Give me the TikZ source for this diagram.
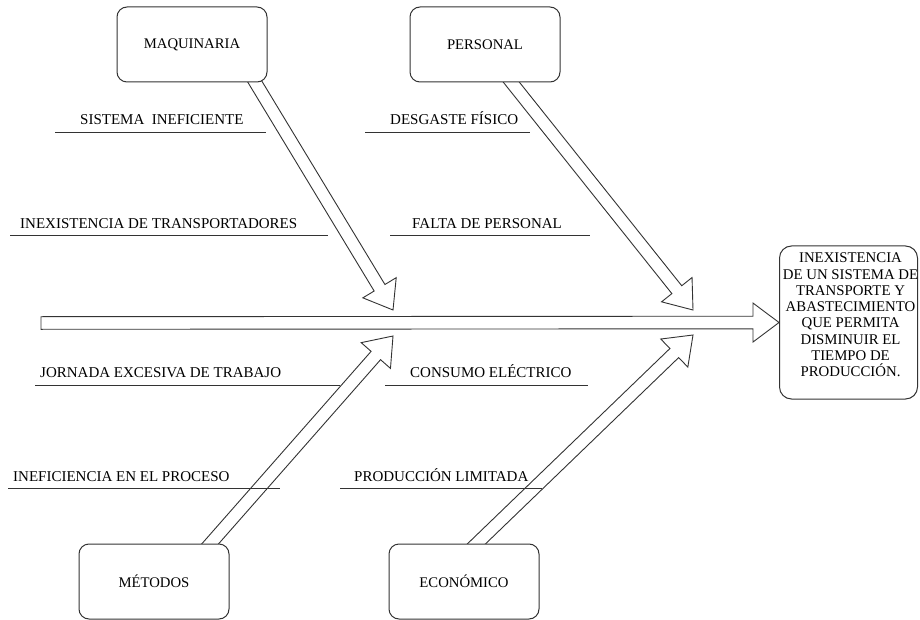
\documentclass[tikz,border=0pt]{standalone}
\usepackage{fontspec}
\setmainfont{Liberation Serif}
\usetikzlibrary{calc}
\pgfdeclarelayer{bg}
\pgfsetlayers{bg,main}
\definecolor{ln}{HTML}{333333}
\tikzset{
  causebox/.style={draw=ln, line width=1pt, rounded corners=10pt, fill=white,
    minimum width=150pt, minimum height=75pt, inner sep=0pt,
    font=\fontsize{14.7}{16}\selectfont},
  effbox/.style={draw=ln, line width=1pt, rounded corners=12pt, fill=white,
    minimum width=138pt, minimum height=153pt, inner sep=0pt},
  efftext/.style={align=center, inner sep=0pt, font=\fontsize{14.8}{16.3}\selectfont},
  barrow/.style={draw=ln, line width=0.9pt, fill=white, line join=miter},
  lbl/.style={font=\fontsize{15}{16}\selectfont, inner sep=0pt, anchor=base west},
  uline/.style={draw=ln, line width=1pt}
}
\newcommand\blockarrow[3]{% #1 prefix, #2 start, #3 tip
  \coordinate (#1h) at ($(#3)!26pt!(#2)$);
  \draw[barrow] ($(#2)!6.3pt!90:(#3)$) -- ($(#1h)!6.3pt!90:(#3)$)
    -- ($(#1h)!19.5pt!90:(#3)$) -- (#3) -- ($(#1h)!19.5pt!-90:(#3)$)
    -- ($(#1h)!6.3pt!-90:(#3)$) -- ($(#2)!6.3pt!-90:(#3)$) -- cycle;
}
\begin{document}
\begin{tikzpicture}[x=1pt,y=-1pt]
\useasboundingbox (0,0) rectangle (920,620);

% boxes
\node[causebox] (maq) at (192,44.5) {MAQUINARIA};
\node[causebox] (per) at (485,44.5) {PERSONAL};
\node[causebox] (met) at (154,581.5) {MÉTODOS};
\node[causebox] (eco) at (464,581.5) {ECONÓMICO};
\node[effbox] (efecto) at (848.5,322.5) {};
\node[efftext] (efectotxt) at (850.5,315) {INEXISTENCIA\\DE UN SISTEMA DE\\TRANSPORTE Y\\ABASTECIMIENTO\\QUE PERMITA\\DISMINUIR EL\\TIEMPO DE\\PRODUCCIÓN.};

% arrow coordinates
\coordinate (s0) at (41,323);
\coordinate (a1) at (250.8,75);
\coordinate (t1) at (393,310);
\coordinate (a2) at (505.6,75);
\coordinate (t2) at (693,310);
\coordinate (a3) at (203,552);
\coordinate (t3) at (393,336);
\coordinate (a4) at (468,552);
\coordinate (t4) at (693,335);

\begin{pgfonlayer}{bg}
  \blockarrow{sp}{s0}{efecto.west}
  \blockarrow{ma}{a1}{t1}
  \blockarrow{pa}{a2}{t2}
  \blockarrow{mt}{a3}{t3}
  \blockarrow{ec}{a4}{t4}
\end{pgfonlayer}

% labels
\node[lbl] (l1) at (80,125) {SISTEMA\ \ INEFICIENTE};
\draw[uline] (55,133) -- (266,133);
\node[lbl] (l2) at (20,229) {INEXISTENCIA DE TRANSPORTADORES};
\draw[uline] (10,236) -- (328,236);
\node[lbl] (l3) at (390,125) {DESGASTE FÍSICO};
\draw[uline] (365,133) -- (530,133);
\node[lbl] (l4) at (412,229) {FALTA DE PERSONAL};
\draw[uline] (390,236) -- (590,236);
\node[lbl] (l5) at (40,377) {JORNADA EXCESIVA DE TRABAJO};
\draw[uline] (35,385) -- (340,385);
\node[lbl] (l6) at (410,377) {CONSUMO ELÉCTRICO};
\draw[uline] (385,385) -- (588,385);
\node[lbl] (l7) at (13,481) {INEFICIENCIA EN EL PROCESO};
\draw[uline] (8,488) -- (280,488);
\node[lbl] (l8) at (354,481) {PRODUCCIÓN LIMITADA};
\draw[uline] (340,488) -- (542,488);
\end{tikzpicture}
\end{document}
